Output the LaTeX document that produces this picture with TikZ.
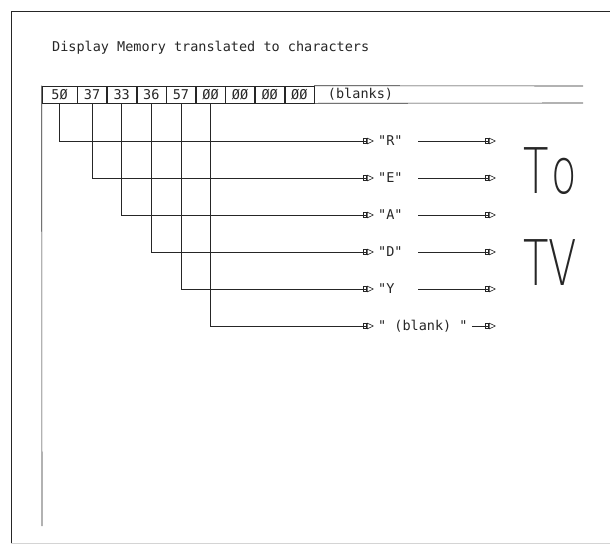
\documentclass[tikz,border=0pt]{standalone}
\usepackage{fontspec}
\setmonofont{DejaVu Sans Mono}
\newfontfamily\tvfont{DejaVu Sans ExtraLight}
\usetikzlibrary{arrows.meta, positioning}
\definecolor{pen}{HTML}{262626}
\definecolor{faint}{HTML}{D4D4D4}
\newcommand\plotfont{\fontsize{13.5}{16}\selectfont\ttfamily}
\tikzset{
  plot/.style={line width=0.6pt, draw=pen},
  cell/.style={rectangle, draw=pen, line width=0.6pt, minimum width=29pt, minimum height=17pt, inner sep=0pt, font=\plotfont, text=pen},
  chr/.style={anchor=west, inner xsep=4pt, inner ysep=0pt, text width=36pt, align=left, font=\plotfont, text=pen},
  chrwide/.style={anchor=west, inner xsep=4pt, inner ysep=0pt, font=\plotfont, text=pen},
  txt/.style={inner sep=0pt, font=\plotfont, text=pen},
  big/.style={anchor=base, inner sep=0pt, font=\tvfont\fontsize{63}{63}\selectfont, text=pen},
  arr/.style={-{Square[open, length=4pt, width=6pt, sep=0pt] Triangle[open, length=7pt, width=6.5pt]}, line width=0.6pt, draw=pen},
}
\begin{document}
\begin{tikzpicture}[x=1pt, y=-1pt]
  \useasboundingbox (0,0) rectangle (610,555);
  % frame
  \draw[plot] (610,11) -- (11,11) -- (11,543);
  \draw[line width=0.6pt, draw=faint] (11,543) -- (610,543);
  \node[txt, anchor=base west] (title) at (52,51) {Display Memory translated to characters};
  % display memory row
  \node[cell, minimum width=35pt] (c1) at (59.5,94.5) {5Ø};
  \node[cell, right=0pt of c1] (c2) {37};
  \node[cell, right=0pt of c2] (c3) {33};
  \node[cell, right=0pt of c3] (c4) {36};
  \node[cell, right=0pt of c4] (c5) {57};
  \node[cell, right=0pt of c5] (c6) {ØØ};
  \node[cell, right=0pt of c6] (c7) {ØØ};
  \node[cell, right=0pt of c7] (c8) {ØØ};
  \node[cell, right=0pt of c8] (c9) {ØØ};
  \node[txt] (blanks) at (360.5,94.5) {(blanks)};
  \draw[plot] (c9.north east) -- (583,86);
  \draw[plot] (c9.south east) -- (583,103);
  \draw[plot] (c1.north west) -- (42,526);
  % characters
  \node[chr] (chR) at (374,141) {"R"};
  \node[chr] (chE) at (374,178) {"E"};
  \node[chr] (chA) at (374,215) {"A"};
  \node[chr] (chD) at (374,252) {"D"};
  \node[chr] (chY) at (374,289) {"Y};
  \node[chrwide] (chB) at (374,326) {" (blank) "};
  \coordinate (tvR) at (496,141);
  \coordinate (tvE) at (496,178);
  \coordinate (tvA) at (496,215);
  \coordinate (tvD) at (496,252);
  \coordinate (tvY) at (496,289);
  \coordinate (tvB) at (496,326);
  \draw[arr] (c1.south) |- (chR.west);
  \draw[arr] (c2.south) |- (chE.west);
  \draw[arr] (c3.south) |- (chA.west);
  \draw[arr] (c4.south) |- (chD.west);
  \draw[arr] (c5.south) |- (chY.west);
  \draw[arr] (c6.south) |- (chB.west);
  \draw[arr] (chR.east) -- (tvR);
  \draw[arr] (chE.east) -- (tvE);
  \draw[arr] (chA.east) -- (tvA);
  \draw[arr] (chD.east) -- (tvD);
  \draw[arr] (chY.east) -- (tvY);
  \draw[arr] (chB.east) -- (tvB);
  % to tv
  \node[big] (to) at (550,193) {\scalebox{0.66}[1]{T\kern4pt o}};
  \node[big] (tv) at (550,285) {\scalebox{0.66}[1]{TV}};
\end{tikzpicture}
\end{document}
